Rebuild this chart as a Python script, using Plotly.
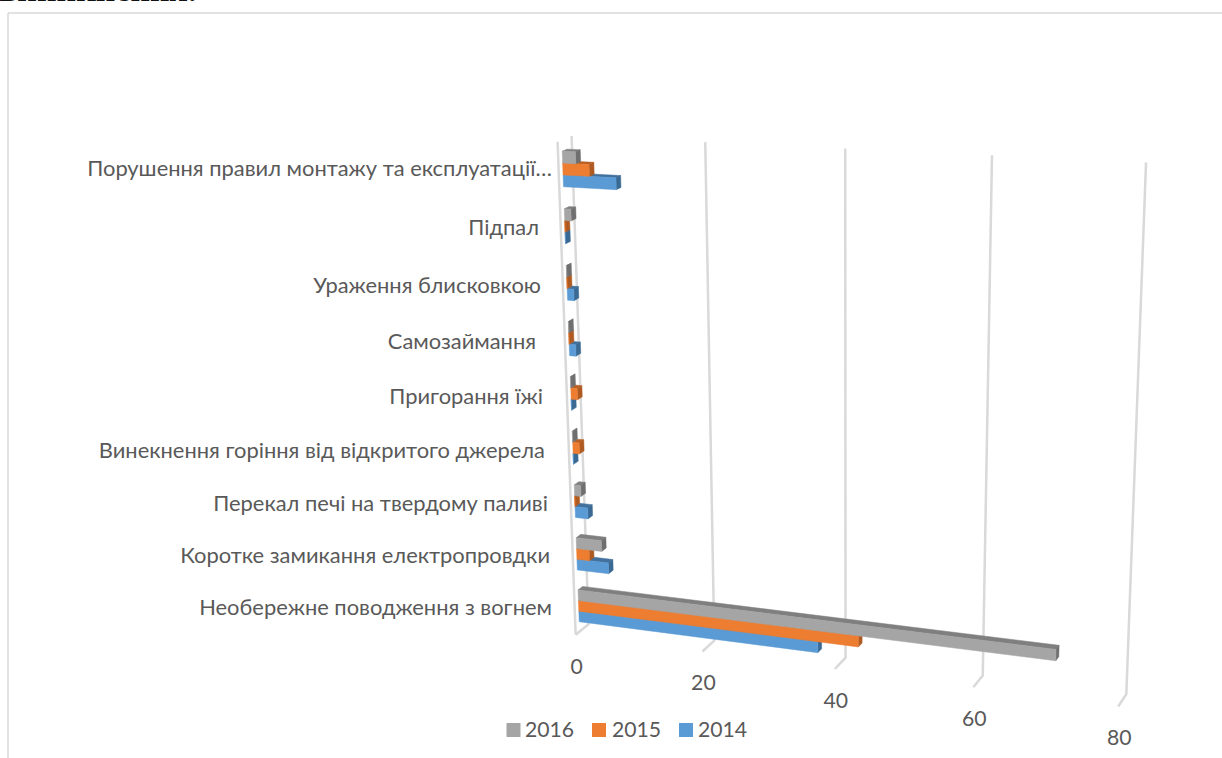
import numpy as np
import plotly.graph_objects as go

# ---------- data (bottom category first) ----------
categories = [
    "Необережне поводження з вогнем",
    "Коротке замикання електропровдки",
    "Перекал печі на твердому паливі",
    "Винекнення горіння від відкритого джерела",
    "Пригорання їжі",
    "Самозаймання",
    "Ураження блисковкою",
    "Підпал",
    "Порушення правил монтажу та експлуатації…",
]
values_2014 = [37, 5, 2, 0, 0, 1, 1, 0, 8]
values_2015 = [43, 2, 0, 1, 1, 0, 0, 0, 4]
values_2016 = [71, 4, 1, 0, 0, 0, 0, 1, 2]
value_ticks = [0, 20, 40, 60, 80]
years = ["2016", "2015", "2014"]

# ---------- styles ----------
COL = {
    "2016": ("#A5A5A5", "#7F7F7F", "#6F6F6F"),
    "2015": ("#ED7D31", "#B85F24", "#AE5A21"),
    "2014": ("#5B9BD5", "#41719C", "#3A6A94"),
}
GRID = "#D9D9D9"
TXT = "#595959"
FONT = "Lato"
FS_CAT = 21.9
FS_NUM = 21.2
W, H = 1222, 758
V_MAX = 80.0
DEPTH = (0.30, 0.65)      # bar depth extents in the floor
BAR = 0.205               # bar thickness as a fraction of a category slot

# ---------- perspective camera: (value, category pos, depth) -> pixel ----------
n = len(categories)
calib = [
    ((0, 0, 1), (588, 622)), ((20, 0, 1), (715, 640)), ((40, 0, 1), (846, 658)),
    ((60, 0, 1), (983, 676)), ((80, 0, 1), (1127, 695)),
    ((0, 1, 1), (572, 135)), ((20, 1, 1), (705, 142)), ((40, 1, 1), (845, 148)),
    ((60, 1, 1), (991, 155)), ((80, 1, 1), (1145, 163)),
    ((0, 0, 0), (574, 633)), ((20, 0, 0), (702, 651)), ((40, 0, 0), (835, 668)),
    ((60, 0, 0), (973, 687)), ((80, 0, 0), (1119, 706)), ((0, 1, 0), (558, 140)),
]
slot_left = [(578, 606.5), (576.5, 554.5), (575, 502.5), (573, 449.5), (571.5, 395.5),
             (569.5, 340.5), (567.5, 284.5), (565.5, 226.5), (563, 167.5)]
for i, px in enumerate(slot_left):
    calib.append(((0, (i + 0.5) / n, DEPTH[0]), px))

A, b = [], []
for (v, c, d), (x, y) in calib:
    X = [v / V_MAX, c, d, 1]
    A.append(X + [0, 0, 0, 0] + [-x * t for t in X[:3]])
    b.append(x)
    A.append([0, 0, 0, 0] + X + [-y * t for t in X[:3]])
    b.append(y)
sol = np.linalg.lstsq(np.array(A, float), np.array(b, float), rcond=None)[0]
P = np.append(sol, 1.0).reshape(3, 4)


def proj(v, c, d):
    h = P @ np.array([v / V_MAX, c, d, 1.0])
    return h[0] / h[2], h[1] / h[2]


def poly(pts):
    xy = [proj(*p) for p in pts] + [proj(*pts[0])]
    return [q[0] for q in xy], [q[1] for q in xy]


fig = go.Figure()

# ---------- chart frame ----------
fig.add_shape(type="line", x0=8, x1=W, y0=13, y1=13, line=dict(color=GRID, width=1.5))
fig.add_shape(type="line", x0=8, x1=8, y0=13, y1=H, line=dict(color=GRID, width=1.5))

# ---------- gridlines ----------
for t in value_ticks:
    xs, ys = zip(*[proj(t, 0, 0), proj(t, 0, 1), proj(t, 1, 1)])
    fig.add_trace(go.Scatter(x=xs, y=ys, mode="lines", line=dict(color=GRID, width=2.5),
                             hoverinfo="skip", showlegend=False))
xs, ys = zip(*[proj(0, 0, 0), proj(0, 1, 0)])
fig.add_trace(go.Scatter(x=xs, y=ys, mode="lines", line=dict(color=GRID, width=2.5),
                         hoverinfo="skip", showlegend=False))


def face(pts, color, name):
    x, y = poly(pts)
    fig.add_trace(go.Scatter(x=x, y=y, mode="lines", fill="toself", fillcolor=color,
                             line=dict(color=color, width=0.5), name=name,
                             hoverinfo="skip", showlegend=False))


# ---------- bars: lower ones first so upper front faces overlap their top faces ----------
series = [("2014", values_2014), ("2015", values_2015), ("2016", values_2016)]
d0, d1 = DEPTH
for i in range(n):
    for k, (yr, vals) in enumerate(series):
        v = vals[i]
        c0 = (i + 0.5 + (k - 1.5) * BAR) / n
        c1 = (i + 0.5 + (k - 0.5) * BAR) / n
        front, top, side = COL[yr]
        face([(0, c1, d0), (v, c1, d0), (v, c1, d1), (0, c1, d1)], top, yr)
        face([(v, c0, d0), (v, c1, d0), (v, c1, d1), (v, c0, d1)], side, yr)
        face([(0, c0, d0), (v, c0, d0), (v, c1, d0), (0, c1, d0)], front, yr)

# ---------- category labels ----------
label_right = [552, 550, 548, 545, 543, 536, 541, 539, 552]
label_y = [609.5, 557.5, 505.5, 452.5, 398.5, 343.5, 287.5, 229.5, 170.5]
fig.add_trace(go.Scatter(x=label_right, y=label_y, mode="text", text=categories,
                         textposition="middle left", cliponaxis=False,
                         textfont=dict(family=FONT, size=FS_CAT, color=TXT),
                         hoverinfo="skip", showlegend=False))

# ---------- value tick labels ----------
tx, ty = zip(*[proj(t, 0, 0) for t in value_ticks])
fig.add_trace(go.Scatter(x=[a + 1 for a in tx], y=[a + 33.5 for a in ty], mode="text",
                         text=[str(t) for t in value_ticks], textposition="middle center",
                         cliponaxis=False, textfont=dict(family=FONT, size=FS_NUM, color=TXT),
                         hoverinfo="skip", showlegend=False))

# ---------- legend ----------
legend_x = [513.5, 599, 686]
legend_text_x = [525, 612, 698]
legend_y = 730
for yr, lx, tx_ in zip(years, legend_x, legend_text_x):
    fig.add_trace(go.Scatter(x=[lx], y=[legend_y], mode="markers", name=yr,
                             marker=dict(symbol="square", size=14, color=COL[yr][0]),
                             hoverinfo="skip", showlegend=False))
    fig.add_trace(go.Scatter(x=[tx_], y=[legend_y + 1.5], mode="text", name=yr,
                             text=[yr], textposition="middle right", cliponaxis=False,
                             textfont=dict(family=FONT, size=FS_NUM, color=TXT),
                             hoverinfo="skip", showlegend=False))

# ---------- clipped line of the surrounding document (cut off in the reference too) ----------
fig.add_annotation(x=0, y=10, xref="x", yref="y", xshift=-3, text="<b>виникнення.</b>",
                   showarrow=False, xanchor="left", yanchor="bottom",
                   font=dict(family="Liberation Serif", size=34, color="#111111"))

fig.update_layout(
    width=W, height=H, margin=dict(l=0, r=0, t=0, b=0),
    paper_bgcolor="white", plot_bgcolor="white", showlegend=False,
    xaxis=dict(range=[0, W], visible=False, fixedrange=True),
    yaxis=dict(range=[H, 0], visible=False, fixedrange=True),
)
fig.write_html("out.html", config={"displayModeBar": False},
               post_script="document.body.style.margin='0';window.dispatchEvent(new Event('resize'));")
